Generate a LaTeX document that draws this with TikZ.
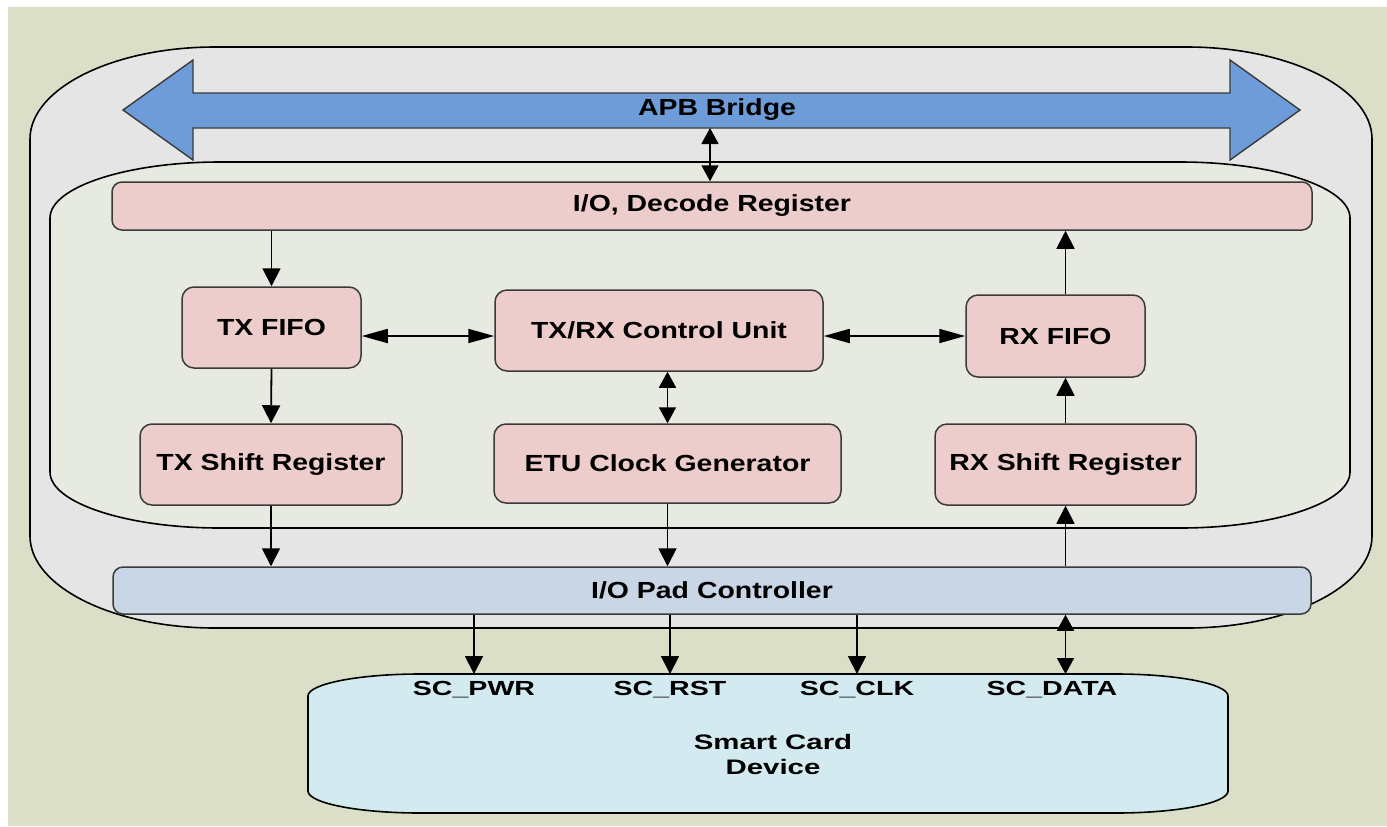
\documentclass[tikz,border=0pt]{standalone}
\usepackage{fontspec}
\setmainfont{Liberation Sans}[FakeStretch=1.22]
\newfontfamily\cardfont{Liberation Sans}[FakeStretch=1.4]
\usetikzlibrary{arrows.meta}
\definecolor{bggreen}{RGB}{220,223,199}
\definecolor{outergray}{RGB}{229,229,229}
\definecolor{innergreen}{RGB}{231,234,224}
\definecolor{blkpink}{RGB}{236,205,203}
\definecolor{apbblue}{RGB}{110,156,216}
\definecolor{padblue}{RGB}{200,214,229}
\definecolor{cardblue}{RGB}{211,234,240}
\definecolor{boxline}{RGB}{58,58,58}
\tikzstyle{blk} = [rectangle, rounded corners=6pt, draw=boxline, line width=0.75pt, fill=blkpink, inner sep=0pt, font=\bfseries\fontsize{11.65}{14}\selectfont]
\tikzstyle{bar} = [blk, rounded corners=5pt, minimum width=600pt, minimum height=24pt]
\tikzstyle{pin} = [inner sep=0pt, font=\cardfont\bfseries\fontsize{10.2}{12}\selectfont]
\tikzstyle{vtip} = [-{Triangle[length=9pt,width=9pt]}, line width=0.9pt]
\tikzstyle{vboth} = [{Triangle[length=8pt,width=8.5pt]}-{Triangle[length=8pt,width=8.5pt]}, line width=0.9pt]
\tikzstyle{hboth} = [{Triangle[length=13pt,width=7pt]}-{Triangle[length=13pt,width=7pt]}, line width=0.9pt]
% panel with elliptic corners: style, x1, y1, x2, y2, rx, ry
\newcommand{\capsulebox}[7]{%
  \draw[#1] (#2,#3+#7) .. controls (#2,#3+0.45*#7) and (#2+0.45*#6,#3) .. (#2+#6,#3)
    -- (#4-#6,#3) .. controls (#4-0.45*#6,#3) and (#4,#3+0.45*#7) .. (#4,#3+#7)
    -- (#4,#5-#7) .. controls (#4,#5-0.45*#7) and (#4-0.45*#6,#5) .. (#4-#6,#5)
    -- (#2+#6,#5) .. controls (#2+0.45*#6,#5) and (#2,#5-0.45*#7) .. (#2,#5-#7) -- cycle;}
\begin{document}
\begin{tikzpicture}[x=0.5pt, y=-0.5pt]
\path[use as bounding box, fill=white] (0,0) rectangle (1387,826);
\fill[bggreen] (8,7) rectangle (1387,826);
% containers
\capsulebox{draw=black, line width=0.8pt, fill=outergray}{30}{47}{1372}{628}{185}{92}
\draw[draw=boxline, line width=0.7pt, fill=apbblue] (123,110) -- (193,60) -- (193,93) -- (1230,93) -- (1230,60) -- (1300,110) -- (1230,160) -- (1230,128) -- (193,128) -- (193,160) -- cycle;
\node (apb) [font=\bfseries\fontsize{11.65}{14}\selectfont] at (717,110) {APB Bridge};
\capsulebox{draw=black, line width=0.8pt, fill=innergreen}{50}{162}{1350}{528}{170}{56}
\capsulebox{draw=black, line width=0.8pt, fill=cardblue}{308}{674}{1228}{813}{112}{22}
\coordinate (apbfoot) at (710,128);
\coordinate (cardtop) at (768,674);
% blocks
\node (dec) [bar] at (712,206) {I/O, Decode Register};
\node (txf) [blk, minimum width=89.5pt, minimum height=40.5pt] at (271.5,327.5) {TX FIFO};
\node (ctl) [blk, minimum width=164pt, minimum height=40.5pt] at (659,330.5) {TX/RX Control Unit};
\node (rxf) [blk, minimum width=89.5pt, minimum height=41pt] at (1055.5,336) {RX FIFO};
\node (txs) [blk, minimum width=131pt, minimum height=40.5pt] at (271,464.5) {TX Shift Register};
\node (etu) [blk, minimum width=173.5pt, minimum height=39.5pt] at (667.5,463.5) {ETU Clock Generator};
\node (rxs) [blk, minimum width=130.5pt, minimum height=40.5pt] at (1065.5,464.5) {RX Shift Register};
\node (pad) [bar, fill=padblue, minimum width=599pt, minimum height=23.5pt] at (712,590.5) {I/O Pad Controller};
% card pins
\node (pwr) [pin] at (474,690) {SC\_PWR};
\node (rst) [pin] at (670,690) {SC\_RST};
\node (clk) [pin] at (857,690) {SC\_CLK};
\node (dat) [pin] at (1052,690) {SC\_DATA};
\node (card) [pin, font=\cardfont\bfseries\fontsize{10.5}{12.5}\selectfont, align=center] at (773,754) {Smart Card\\Device};
% links
\draw[vboth] (apbfoot) -- (apbfoot |- dec.north);
\draw[vtip] (dec.south -| txf) -- (txf.north);
\draw[vtip] (txf.south) -- (txs.north);
\draw[vtip] (txs.south) -- (txs.south |- pad.north);
\draw[hboth] (txf.east |- rxf.west) -- (ctl.west |- rxf.west);
\draw[hboth] (ctl.east |- rxf.west) -- (rxf.west);
\draw[vboth] (etu.north |- ctl.south) -- (etu.north);
\draw[vtip] (etu.south) -- (etu.south |- pad.north);
\draw[vtip] (rxs.north) -- (rxs.north |- rxf.south);
\draw[vtip] (rxs.north |- rxf.north) -- (rxs.north |- dec.south);
\draw[vtip] (pad.north -| rxs) -- (rxs.south);
\draw[vtip] (pad.south -| pwr) -- (pwr |- cardtop);
\draw[vtip] (pad.south -| rst) -- (rst |- cardtop);
\draw[vtip] (pad.south -| clk) -- (clk |- cardtop);
\draw[vboth] (pad.south -| rxs) -- (rxs |- cardtop);
\end{tikzpicture}
\end{document}
